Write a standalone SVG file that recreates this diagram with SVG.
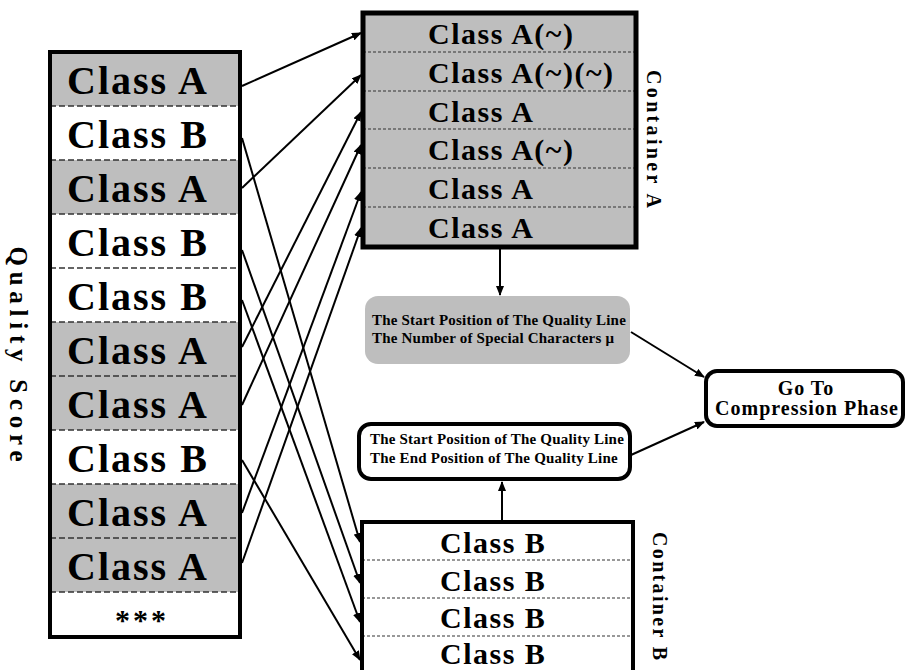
<svg xmlns="http://www.w3.org/2000/svg" width="907" height="670" viewBox="0 0 907 670">
<style>
.big{font-family:"Liberation Serif","Times New Roman",serif;font-weight:bold;font-size:40px;letter-spacing:2px;fill:#000}
.mid{font-family:"Liberation Serif","Times New Roman",serif;font-weight:bold;font-size:30px;letter-spacing:1.5px;fill:#000}
.sm{font-family:"Liberation Serif","Times New Roman",serif;font-weight:bold;font-size:15px;letter-spacing:0.2px;fill:#000}
.lbl{font-family:"Liberation Serif","Times New Roman",serif;font-weight:bold;fill:#000}
.g{fill:#bebebe}
.w{fill:#fff}
.dl{stroke:#333;stroke-width:1.5;stroke-dasharray:6 3;fill:none}
.dc{stroke:#333;stroke-width:1;stroke-dasharray:3 2;fill:none}
.frame{fill:none;stroke:#000;stroke-width:4}
.conn line{stroke:#000;stroke-width:2;marker-end:url(#ah)}
</style>
<defs>
<marker id="ah" markerWidth="10" markerHeight="8" refX="9" refY="4" orient="auto" markerUnits="userSpaceOnUse">
<path d="M0,0 L10,4 L0,8 z" fill="#000"/>
</marker>
</defs>
<rect width="907" height="670" fill="#fff"/>

<g id="quality-label">
<text class="lbl" font-size="25" text-anchor="middle" textLength="215" lengthAdjust="spacing" transform="translate(10,354) rotate(90)">Quality Score</text>
</g>

<g id="quality-score">
<rect class="g" x="50" y="52" width="190" height="54"/>
<rect class="w" x="50" y="106" width="190" height="54"/>
<rect class="g" x="50" y="160" width="190" height="54"/>
<rect class="w" x="50" y="214" width="190" height="108"/>
<rect class="g" x="50" y="322" width="190" height="108"/>
<rect class="w" x="50" y="430" width="190" height="54"/>
<rect class="g" x="50" y="484" width="190" height="108"/>
<rect class="w" x="50" y="592" width="190" height="45"/>
<line class="dl" x1="50" y1="106" x2="240" y2="106"/>
<line class="dl" x1="50" y1="160" x2="240" y2="160"/>
<line class="dl" x1="50" y1="214" x2="240" y2="214"/>
<line class="dl" x1="50" y1="268" x2="240" y2="268"/>
<line class="dl" x1="50" y1="322" x2="240" y2="322"/>
<line class="dl" x1="50" y1="376" x2="240" y2="376"/>
<line class="dl" x1="50" y1="430" x2="240" y2="430"/>
<line class="dl" x1="50" y1="484" x2="240" y2="484"/>
<line class="dl" x1="50" y1="538" x2="240" y2="538"/>
<line class="dl" x1="50" y1="592" x2="240" y2="592"/>
<rect class="frame" x="50" y="52" width="190" height="585"/>
<text class="big" x="67" y="94">Class A</text>
<text class="big" x="67" y="148">Class B</text>
<text class="big" x="67" y="202">Class A</text>
<text class="big" x="67" y="256">Class B</text>
<text class="big" x="67" y="310">Class B</text>
<text class="big" x="67" y="364">Class A</text>
<text class="big" x="67" y="418">Class A</text>
<text class="big" x="67" y="472">Class B</text>
<text class="big" x="67" y="526">Class A</text>
<text class="big" x="67" y="580">Class A</text>
<text class="lbl" font-size="30" letter-spacing="3" x="142" y="630" text-anchor="middle">***</text>
</g>

<g id="container-a">
<rect class="g" x="363" y="13" width="273" height="234"/>
<line class="dc" x1="363" y1="52" x2="636" y2="52"/>
<line class="dc" x1="363" y1="91" x2="636" y2="91"/>
<line class="dc" x1="363" y1="129" x2="636" y2="129"/>
<line class="dc" x1="363" y1="168" x2="636" y2="168"/>
<line class="dc" x1="363" y1="207" x2="636" y2="207"/>
<rect x="363" y="13" width="273" height="234" fill="none" stroke="#000" stroke-width="5"/>
<text class="mid" x="428" y="44">Class A(~)</text>
<text class="mid" x="428" y="83">Class A(~)(~)</text>
<text class="mid" x="428" y="122">Class A</text>
<text class="mid" x="428" y="160">Class A(~)</text>
<text class="mid" x="428" y="199">Class A</text>
<text class="mid" x="428" y="238">Class A</text>
</g>
<g id="container-a-label">
<text class="lbl" font-size="20" text-anchor="middle" textLength="138" lengthAdjust="spacing" transform="translate(647,139) rotate(90)">Container A</text>
</g>

<g id="container-b">
<rect class="w" x="362" y="522" width="271" height="160"/>
<line class="dc" x1="362" y1="560" x2="633" y2="560"/>
<line class="dc" x1="362" y1="598" x2="633" y2="598"/>
<line class="dc" x1="362" y1="636" x2="633" y2="636"/>
<rect class="frame" x="362" y="522" width="271" height="160"/>
<text class="mid" x="440" y="553">Class B</text>
<text class="mid" x="440" y="591">Class B</text>
<text class="mid" x="440" y="628">Class B</text>
<text class="mid" x="440" y="664">Class B</text>
</g>
<g id="container-b-label">
<text class="lbl" font-size="20" text-anchor="middle" textLength="128" lengthAdjust="spacing" transform="translate(653,596) rotate(90)">Container B</text>
</g>

<g id="info-a">
<rect x="365" y="296" width="265" height="68" rx="13" fill="#bebebe"/>
<text class="sm" x="372" y="325">The Start Position of The Quality Line</text>
<text class="sm" x="372" y="343">The Number of Special Characters μ</text>
</g>

<g id="info-b">
<rect x="359" y="424" width="271" height="55" rx="12" fill="#fff" stroke="#000" stroke-width="4"/>
<text class="sm" x="370" y="444">The Start Position of The Quality Line</text>
<text class="sm" x="370" y="463">The End Position of The Quality Line</text>
</g>

<g id="compression">
<rect x="706" y="371" width="197" height="55" rx="11" fill="#fff" stroke="#000" stroke-width="4"/>
<text class="lbl" font-size="20" letter-spacing="1" x="806" y="395" text-anchor="middle">Go To</text>
<text class="lbl" font-size="20" letter-spacing="1" x="807" y="415" text-anchor="middle">Compression Phase</text>
</g>

<g class="conn" id="connectors">
<line x1="242" y1="86" x2="361" y2="33"/>
<line x1="242" y1="188" x2="361" y2="75"/>
<line x1="242" y1="347" x2="361" y2="112"/>
<line x1="242" y1="405" x2="361" y2="145"/>
<line x1="242" y1="513" x2="361" y2="192"/>
<line x1="242" y1="563" x2="361" y2="228"/>
<line x1="242" y1="138" x2="360" y2="542"/>
<line x1="242" y1="250" x2="360" y2="583"/>
<line x1="242" y1="300" x2="360" y2="622"/>
<line x1="242" y1="460" x2="360" y2="660"/>
<line x1="500" y1="249" x2="500" y2="295"/>
<line x1="502" y1="520" x2="502" y2="482"/>
<line x1="631" y1="332" x2="704" y2="377"/>
<line x1="631" y1="455" x2="704" y2="422"/>
</g>
</svg>
